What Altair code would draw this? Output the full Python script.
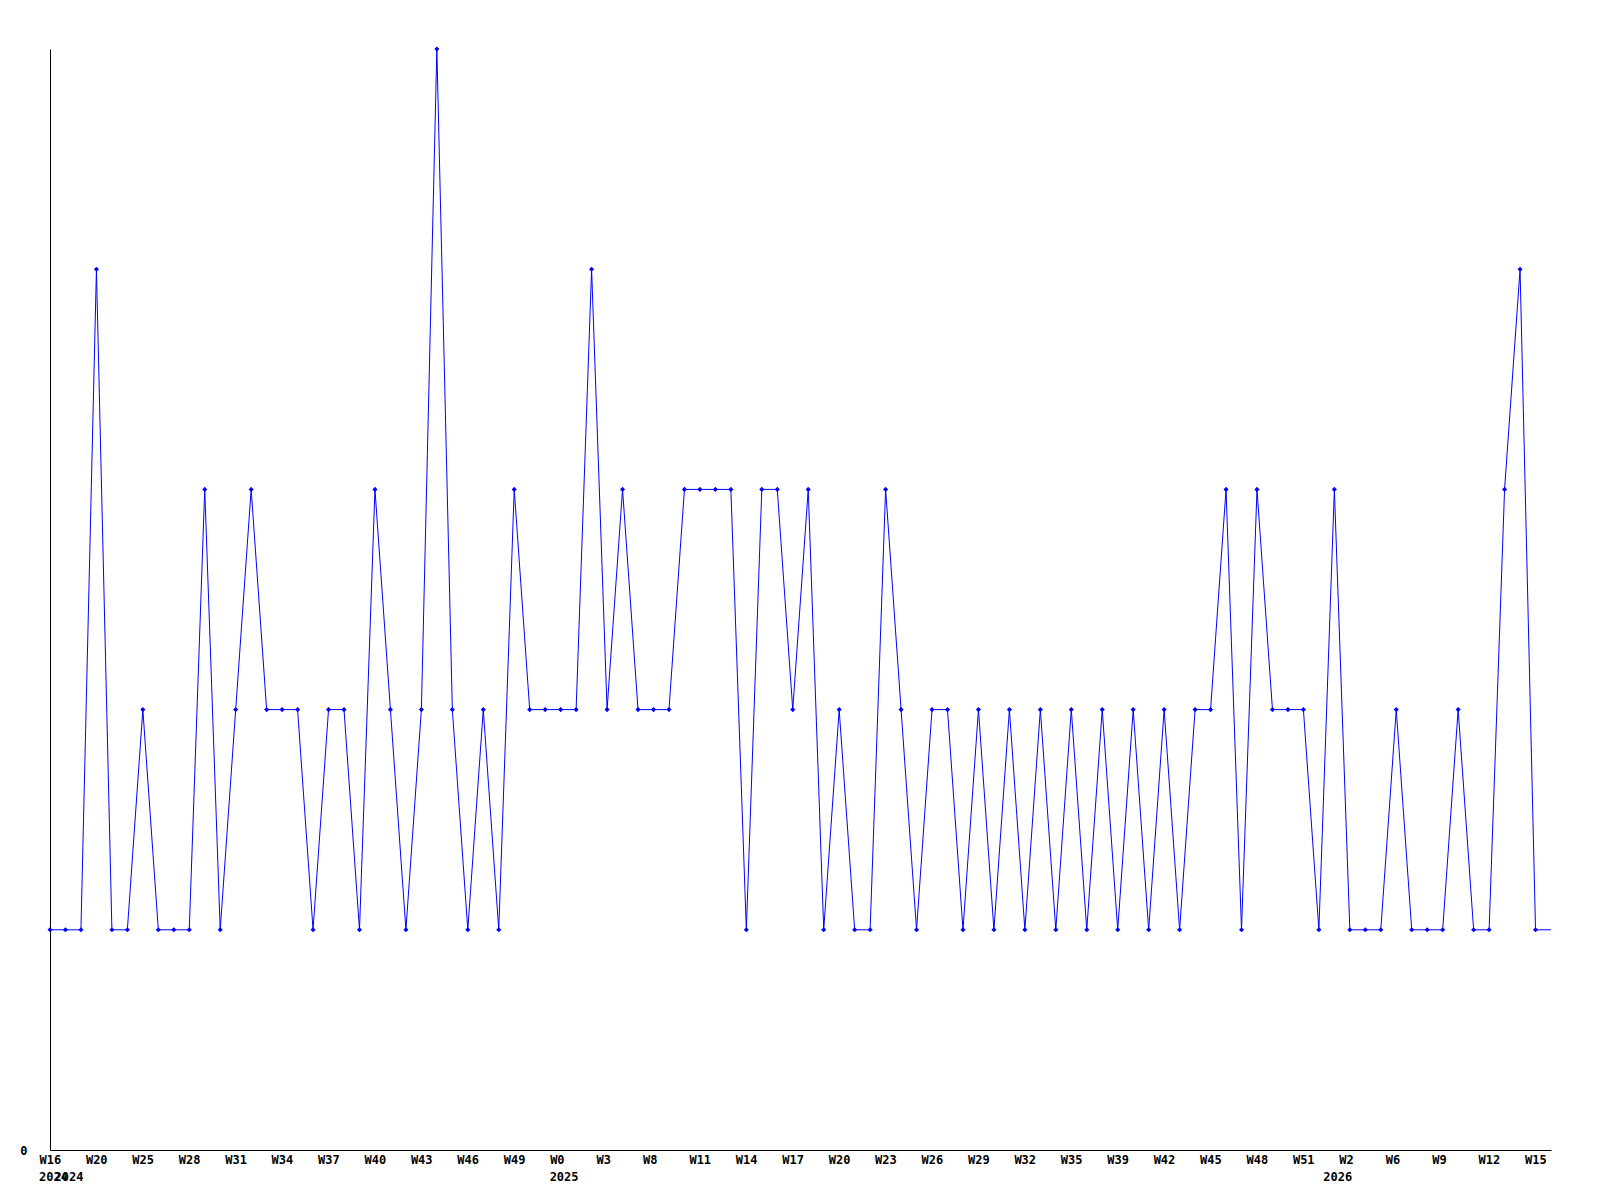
import altair as alt
import pandas as pd

# values per week (index 0..96), plus trailing continuation point
values = [1, 1, 1, 4, 1, 1, 2, 1, 1, 1, 3, 1, 2, 3, 2, 2, 2, 1, 2, 2,
          1, 3, 2, 1, 2, 5, 2, 1, 2, 1, 3, 2, 2, 2, 2, 4, 2, 3, 2, 2,
          2, 3, 3, 3, 3, 1, 3, 3, 2, 3, 1, 2, 1, 1, 3, 2, 1, 2, 2, 1,
          2, 1, 2, 1, 2, 1, 2, 1, 2, 1, 2, 1, 2, 1, 2, 2, 3, 1, 3, 2,
          2, 2, 1, 3, 1, 1, 1, 2, 1, 1, 1, 2, 1, 1, 3, 4, 1]
tail_value = 1

week_labels = ["W16", "W20", "W25", "W28", "W31", "W34", "W37", "W40", "W43",
               "W46", "W49", "W0", "W3", "W8", "W11", "W14", "W17", "W20",
               "W23", "W26", "W29", "W32", "W35", "W39", "W42", "W45", "W48",
               "W51", "W2", "W6", "W9", "W12", "W15"]
label_step = 3

year_labels = ["2024", "2024", "2025", "2026"]
year_index = [0, 1, 33, 83]

n = len(values)
line_df = pd.DataFrame({"idx": list(range(n + 1)), "v": values + [tail_value]})
pts_df = pd.DataFrame({"idx": list(range(n)), "v": values})
year_df = pd.DataFrame({"idx": year_index, "year": year_labels})

FONT = "DejaVu Sans Mono"
BLUE = "#0000ff"

label_arr = "[" + ",".join("'%s'" % w for w in week_labels) + "]"
tick_vals = [i * label_step for i in range(len(week_labels))]

xscale = alt.Scale(domain=[0, n], nice=False, zero=False)
yscale = alt.Scale(domain=[0, 5], nice=False)

xaxis = alt.Axis(values=tick_vals, labelExpr=label_arr + "[round(datum.value/%d)]" % label_step,
                 grid=False, ticks=False, domain=True, domainColor="black", domainWidth=1,
                 labelFont=FONT, labelFontSize=12, labelFontWeight="bold", labelColor="black",
                 labelAlign="left", labelOffset=-11, labelBaseline="top", labelPadding=4,
                 labelOverlap=False, labelFlush=False, title=None)
yaxis = alt.Axis(values=[0], format="d", grid=False, ticks=False, domain=True, domainColor="black",
                 domainWidth=1, labelFont=FONT, labelFontSize=12, labelFontWeight="bold",
                 labelColor="black", labelPadding=23, labelBaseline="middle", title=None)

line = alt.Chart(line_df).mark_line(color=BLUE, strokeWidth=1, clip=False).encode(
    x=alt.X("idx:Q", scale=xscale, axis=xaxis),
    y=alt.Y("v:Q", scale=yscale, axis=yaxis),
)

pts = alt.Chart(pts_df).mark_point(shape="diamond", filled=True, color=BLUE, size=26, opacity=1).encode(
    x=alt.X("idx:Q", scale=xscale),
    y=alt.Y("v:Q", scale=yscale),
)

years = alt.Chart(year_df).mark_text(font=FONT, fontSize=12, fontWeight="bold", color="black",
                                     align="left", baseline="top", dx=-11).encode(
    x=alt.X("idx:Q", scale=xscale),
    y=alt.value(1123),
    text="year:N",
)

chart = alt.layer(line, pts, years).properties(
    width=1501, height=1101,
    padding={"left": 42, "top": 41, "right": 30, "bottom": 40},
    autosize=alt.AutoSizeParams(type="none"),
    background="white",
).configure_view(stroke=None)

chart.save("out.html", embed_options={"renderer": "svg", "actions": False})
